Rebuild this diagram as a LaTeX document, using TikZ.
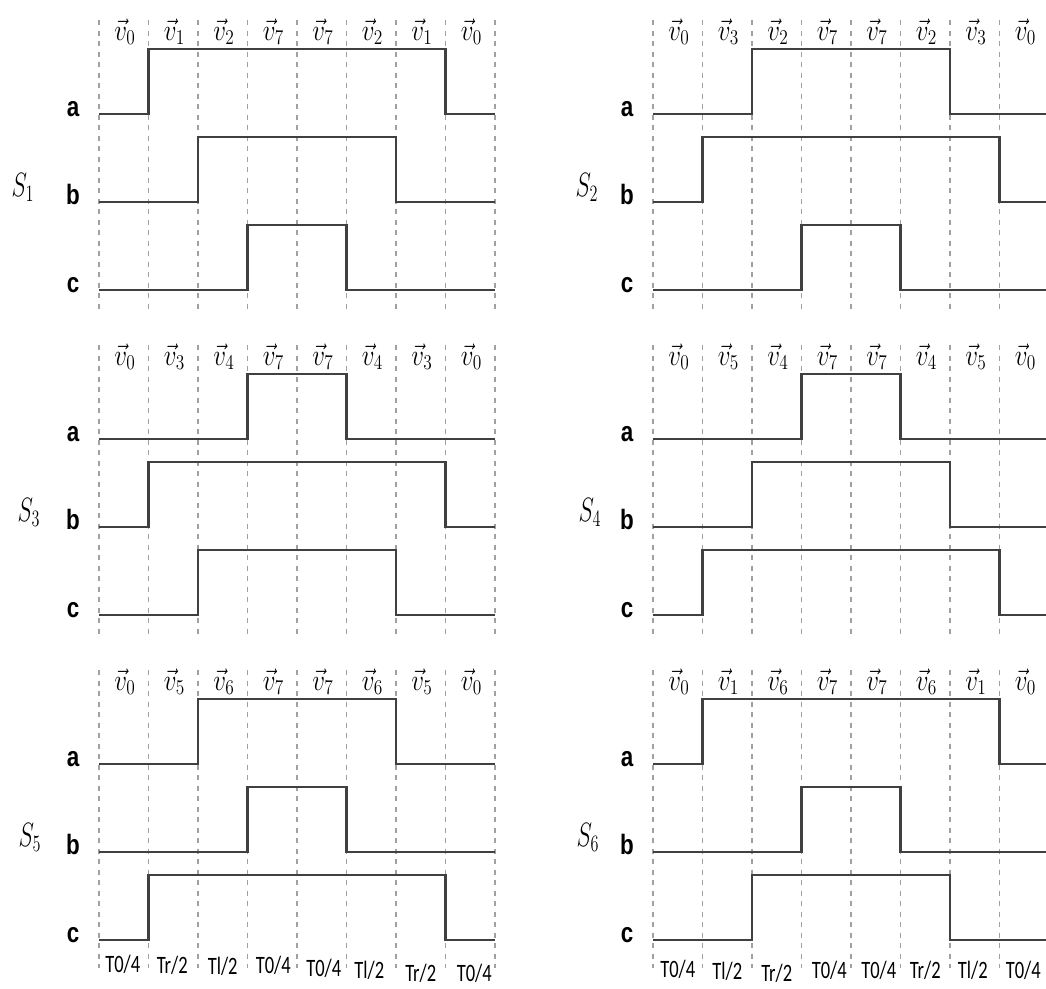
\RequirePackage{fix-cm}
\documentclass[tikz,border=0pt]{standalone}
\usepackage{fontspec}
\usepackage{graphicx}
\newfontfamily\abcfont{Liberation Sans}
\newfontfamily\tfont{Carlito}
\definecolor{gridgray}{HTML}{A0A0A0}
\definecolor{wavegray}{HTML}{404040}
\tikzset{
  gridline/.style={draw=gridgray, line width=1.3pt, dash pattern=on 5pt off 5.5pt},
  wave/.style={draw=wavegray, line width=2.2pt, line join=miter},
  vlab/.style={anchor=base, inner sep=0pt, font=\fontsize{17.28}{18}\selectfont},
  slab/.style={anchor=base, inner sep=0pt, font=\fontsize{17.28}{18}\selectfont},
  rowlab/.style={anchor=base, inner sep=0pt, font=\abcfont\bfseries\fontsize{28}{28}\selectfont},
  tlab/.style={anchor=base, inner sep=0pt, font=\tfont\fontsize{25}{25}\selectfont},
}
% #1 name, #2 x0, #3 y0, #4 S index, #5 S x (relative), #6 vector list, #7 waves s/e for a,b,c, #8 dashed bottom
\newcommand\swpanel[8]{%
  \begin{scope}[shift={(#2,#3)}]
    \foreach \i in {0,...,8} \draw[gridline] (\i*49.5,20) -- (\i*49.5,#8);
    \foreach \vi [count=\k from 0] in {#6}
      \node[vlab] (#1v\k) at (\k*49.5+26,40) {\scalebox{1.45}[1.75]{$\vec{v}_{\vi}$}};
    \foreach \s/\e/\lab [count=\r] in {#7} {
      \pgfmathsetmacro\lo{26+88*\r}
      \pgfmathsetmacro\hi{\lo-65}
      \draw[wave] (0,\lo) -- (\s*49.5,\lo) -- (\s*49.5,\hi) -- (\e*49.5,\hi)
        -- (\e*49.5,\lo) -- (8*49.5,\lo);
      \node[rowlab] (#1\lab) at (-26,\lo+2) {\scalebox{0.8}[1]{\lab}};
    }
    \node[slab] (#1S) at (#5,196) {\scalebox{1.35}[1.95]{$S_{#4}$}};
  \end{scope}}
\begin{document}
\begin{tikzpicture}[x=1pt,y=-1pt]
\useasboundingbox (0,0) rectangle (1046,988);
\clip (0,0) rectangle (1046,988);
\swpanel{P1}{99}{0}{1}{-76}{0,1,2,7,7,2,1,0}{1/7/a,2/6/b,3/5/c}{313}
\swpanel{P2}{653}{0}{2}{-66}{0,3,2,7,7,2,3,0}{2/6/a,1/7/b,3/5/c}{313}
\swpanel{P3}{99}{325}{3}{-70}{0,3,4,7,7,4,3,0}{3/5/a,1/7/b,2/6/c}{313}
\swpanel{P4}{653}{325}{4}{-63}{0,5,4,7,7,4,5,0}{3/5/a,2/6/b,1/7/c}{313}
\swpanel{P5}{99}{650}{5}{-69}{0,5,6,7,7,6,5,0}{2/6/a,3/5/b,1/7/c}{318}
\swpanel{P6}{653}{650}{6}{-65}{0,1,6,7,7,6,1,0}{1/7/a,3/5/b,2/6/c}{318}
% bottom time labels
\foreach \t/\dx/\yb [count=\k from 0] in {{T0/4}/-1/972, {Tr/2}/-1/973, {Tl/2}/0/974, {T0/4}/1/973, {T0/4}/2/976, {Tl/2}/-2/978, {Tr/2}/0/981, {T0/4}/4/981}
  \node[tlab] (L\k) at (99+\k*49.5+24.75+\dx,\yb) {\scalebox{0.74}[1]{\t}};
\foreach \t/\dx/\yb [count=\k from 0] in {{T0/4}/0/977, {Tl/2}/0/979, {Tr/2}/0/981, {T0/4}/3/978, {T0/4}/3/978, {Tr/2}/0/978, {Tl/2}/-2/978, {T0/4}/-1/978}
  \node[tlab] (R\k) at (653+\k*49.5+24.75+\dx,\yb) {\scalebox{0.74}[1]{\t}};
\end{tikzpicture}
\end{document}
